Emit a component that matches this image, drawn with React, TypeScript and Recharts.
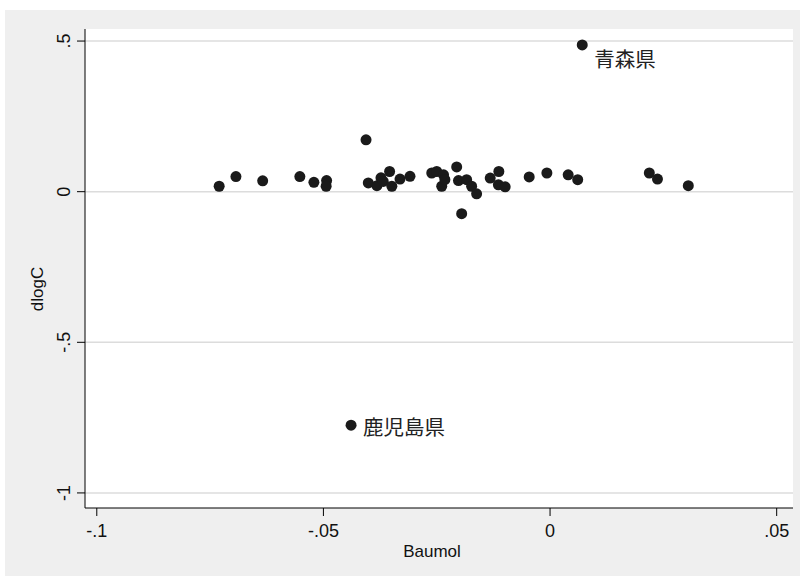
import React from 'react';
import { ScatterChart, Scatter, XAxis, YAxis, CartesianGrid } from 'recharts';

// Baumol effect vs consumption growth, by prefecture
const baumol = [
    -0.0730, -0.0693, -0.0634, -0.0552, -0.0521, -0.0493, -0.0494, -0.0406, -0.0401, -0.0382,
    -0.0373, -0.0354, -0.0368, -0.0349, -0.0331, -0.0309, -0.0261, -0.0250, -0.0235, -0.0239,
    -0.0232, -0.0206, -0.0202, -0.0184, -0.0173, -0.0162, -0.0195, -0.0132, -0.0113, -0.0114,
    -0.0099, -0.0046, -0.0007, 0.0040, 0.0061, 0.0219, 0.0237, 0.0305,
];
const dlogC = [
    0.018, 0.050, 0.036, 0.050, 0.031, 0.037, 0.018, 0.172, 0.029, 0.020,
    0.046, 0.067, 0.034, 0.018, 0.042, 0.051, 0.062, 0.067, 0.056, 0.018,
    0.040, 0.082, 0.037, 0.040, 0.018, -0.007, -0.073, 0.045, 0.067, 0.023,
    0.016, 0.049, 0.062, 0.056, 0.040, 0.062, 0.042, 0.020,
];

// labelled outliers
const labelNames = ['青森県', '鹿児島県'];
const labelBaumol = [0.0071, -0.0439];
const labelDlogC = [0.487, -0.775];
const labelClock = [4, 3];

const xTicks = [-0.1, -0.05, 0, 0.05];
const yTicks = [-1, -0.5, 0, 0.5];

const points = baumol.map((b, i) => ({ x: b, y: dlogC[i], name: '', clock: 3 }));
const labelled = labelNames.map((n, i) => ({ x: labelBaumol[i], y: labelDlogC[i], name: n, clock: labelClock[i] }));

const fmt = (v: number) => {
    if (v === 0) return '0';
    return String(v).replace('0.', '.');
};

const FONT = '"Liberation Sans", Arial, sans-serif';

const Dot = (props: any) => {
    const { cx, cy, payload } = props;
    const dy = payload.clock === 4 ? 13 : 1;
    return (
        <g>
            <circle cx={cx} cy={cy} r={5.5} fill="#1a1a1a" />
            {payload.name ? (
                <text x={cx + 12} y={cy + dy} dominantBaseline="central" fontSize={20.5}
                    fontFamily='"Noto Sans CJK JP", sans-serif' fill="#222">
                    {payload.name}
                </text>
            ) : null}
        </g>
    );
};

const YTick = (props: any) => {
    const { x, y, payload } = props;
    const cx = x - 11;
    return (
        <text x={cx} y={y} transform={`rotate(-90 ${cx} ${y})`} textAnchor="middle"
            dominantBaseline="central" fontSize={18} fontFamily={FONT} fill="#111">
            {fmt(payload.value)}
        </text>
    );
};

const XTick = (props: any) => {
    const { x, y, payload } = props;
    return (
        <text x={x} y={y + 19} textAnchor="middle" fontSize={18} fontFamily={FONT} fill="#111">
            {fmt(payload.value)}
        </text>
    );
};

export default function App() {
    return (
        <div style={{ position: 'absolute', left: 5, top: 10, width: 795, height: 566, background: '#efefef' }}>
            <ScatterChart width={795} height={566} margin={{ top: 19, right: 7, bottom: 0, left: 0 }}>
                <CartesianGrid vertical={false} fill="#ffffff" stroke="#dcdcdc" strokeWidth={1.5}
                    horizontalValues={yTicks} />
                <XAxis type="number" dataKey="x" domain={[-0.1026, 0.0536]} ticks={xTicks}
                    allowDataOverflow height={68} tickSize={8} stroke="#000" tickLine={{ stroke: '#000' }}
                    tick={<XTick />}
                    label={{
                        content: () => (
                            <text x={427} y={547} textAnchor="middle" fontSize={17} fontFamily={FONT} fill="#111">
                                Baumol
                            </text>
                        ),
                    }} />
                <YAxis type="number" dataKey="y" domain={[-1.05, 0.54]} ticks={yTicks}
                    allowDataOverflow width={80} tickSize={8} stroke="#000" tickLine={{ stroke: '#000' }}
                    tick={<YTick />}
                    label={{
                        content: () => (
                            <text x={32} y={279} transform="rotate(-90 32 279)" textAnchor="middle"
                                dominantBaseline="central" fontSize={17} fontFamily={FONT} fill="#111">
                                dlogC
                            </text>
                        ),
                    }} />
                <Scatter data={points} shape={<Dot />} isAnimationActive={false} />
                <Scatter data={labelled} shape={<Dot />} isAnimationActive={false} />
            </ScatterChart>
        </div>
    );
}
